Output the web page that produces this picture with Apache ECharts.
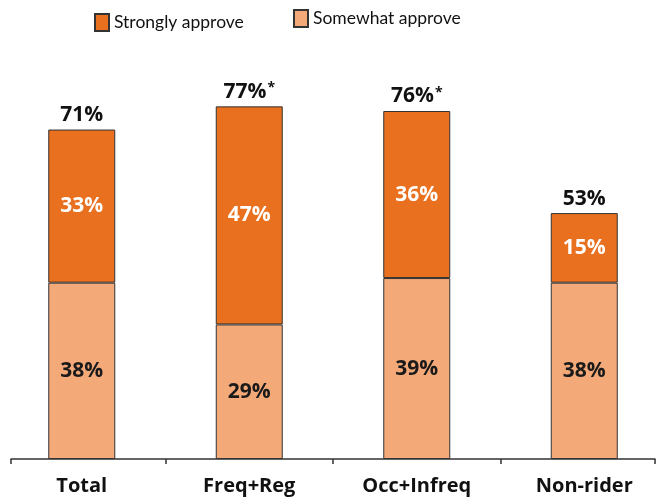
<!DOCTYPE html>
<html>
<head>
<meta charset="utf-8">
<script src="https://cdn.jsdelivr.net/npm/echarts@6/dist/echarts.min.js"></script>
<style>
  html, body { margin: 0; padding: 0; background: #fff; }
  #chart { width: 657px; height: 498px; }
</style>
</head>
<body>
<div id="chart"></div>
<script>
// Approval by rider group, stacked shares in percent
const categories = ['Total', 'Freq+Reg', 'Occ+Infreq', 'Non-rider'];
const somewhatApprove = [38, 29, 39, 38];
const stronglyApprove = [33, 47, 36, 15];
const totalApprove = [71, 77, 76, 53];
const significantFlag = ['', '*', '*', ''];

const FONT = '"Open Sans", "Noto Sans", sans-serif';
const LEGEND_FONT = 'Lato, "Open Sans", sans-serif';
const DARK = '#E8701F';
const LIGHT = '#F3A978';
const EDGE = '#333333';

// Plot band: categories laid out across a slightly wider band than the baseline
const W = 657;
const bandLeft = -2, bandRight = 668;
const baseLeft = 11, baseRight = 655;
const catW = (bandRight - bandLeft) / categories.length;
const baseMin = (baseLeft - bandLeft) / catW;
const baseMax = (baseRight - bandLeft) / catW;
const boundaries = [baseMin];
for (let i = 1; i < categories.length; i++) boundaries.push(i);
boundaries.push(baseMax);

const chart = echarts.init(document.getElementById('chart'));

const segLabel = color => ({
  show: true,
  position: 'inside',
  color: color,
  fontFamily: FONT,
  fontWeight: 'bold',
  fontSize: 21,
  formatter: p => p.value + '%'
});

const legendBase = {
  padding: 0,
  itemWidth: 14, itemHeight: 17,
  icon: 'rect',
  textStyle: { fontFamily: LEGEND_FONT, fontSize: 17.5, color: '#111' }
};

chart.setOption({
  animation: false,
  backgroundColor: '#fff',
  legend: [
    Object.assign({ data: ['Strongly approve'], left: 94, top: 13 }, legendBase),
    Object.assign({ data: ['Somewhat approve'], left: 293, top: 9 }, legendBase)
  ],
  grid: [
    { left: bandLeft, right: W - bandRight, top: 41.4, bottom: 39, outerBoundsMode: 'none', containLabel: false },
    { left: baseLeft, right: W - baseRight, top: 41.4, bottom: 39, outerBoundsMode: 'none', containLabel: false }
  ],
  xAxis: [
    {
      type: 'category',
      gridIndex: 0,
      data: categories,
      axisLine: { show: false },
      axisTick: { show: false },
      axisLabel: {
        color: '#111', fontFamily: FONT, fontWeight: 'bold', fontSize: 20, margin: 17
      }
    },
    {
      type: 'value',
      gridIndex: 1,
      min: baseMin, max: baseMax,
      axisLine: { show: true, lineStyle: { color: EDGE, width: 1.5 } },
      axisTick: { show: true, customValues: boundaries, length: 5, lineStyle: { color: EDGE, width: 1.5 } },
      axisLabel: { show: false },
      splitLine: { show: false }
    }
  ],
  yAxis: [
    { type: 'value', gridIndex: 0, min: 0, max: 90, show: false },
    { type: 'value', gridIndex: 1, min: 0, max: 90, show: false }
  ],
  series: [
    {
      name: 'Somewhat approve',
      type: 'bar',
      stack: 'approve',
      barWidth: 67,
      data: somewhatApprove,
      itemStyle: { color: LIGHT, borderColor: EDGE, borderWidth: 1 },
      label: segLabel('#1a1a1a')
    },
    {
      name: 'Strongly approve',
      type: 'bar',
      stack: 'approve',
      barWidth: 67,
      data: stronglyApprove,
      itemStyle: { color: DARK, borderColor: EDGE, borderWidth: 1 },
      label: segLabel('#ffffff')
    },
    {
      name: 'Total',
      type: 'bar',
      stack: 'approve',
      barWidth: 67,
      data: categories.map(() => 0),
      itemStyle: { color: 'transparent', borderWidth: 0 },
      silent: true,
      label: {
        show: true,
        position: 'top',
        distance: 4,
        formatter: p => '{t|' + totalApprove[p.dataIndex] + '%}' +
          (significantFlag[p.dataIndex] ? '{s|' + significantFlag[p.dataIndex] + '}' : ''),
        rich: {
          t: { color: '#111', fontFamily: FONT, fontWeight: 'bold', fontSize: 21 },
          s: { color: '#111', fontFamily: FONT, fontWeight: 'bold', fontSize: 14, verticalAlign: 'top', padding: [0, 0, 0, 1] }
        }
      }
    }
  ]
});
</script>
</body>
</html>
